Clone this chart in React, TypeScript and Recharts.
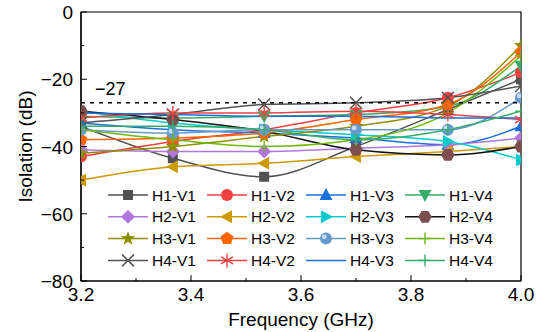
import React from 'react';
import { LineChart, Line, XAxis, YAxis, ReferenceLine, ReferenceArea, Legend } from 'recharts';

// frequency points (GHz)
const freq = [3.2, 3.367, 3.533, 3.7, 3.867, 4.0];

// isolation (dB) per port pair
const h1v1 = [-34, -43.5, -49, -40, -29, -20];
const h1v2 = [-43, -38.5, -35, -30, -25.5, -18];
const h1v3 = [-33, -35, -36, -37.5, -39.5, -34];
const h1v4 = [-31, -31.5, -31, -30.5, -28, -16];
const h2v1 = [-41, -41.5, -41.5, -40.5, -39.5, -37.5];
const h2v2 = [-50, -46, -45, -43, -41.5, -40];
const h2v3 = [-29.5, -33, -35, -36.5, -38.5, -44];
const h2v4 = [-29.5, -32, -35.5, -41, -42.5, -40];
const h3v1 = [-42, -40, -37, -34, -28, -10];
const h3v2 = [-38, -37.5, -36, -32, -27.5, -12];
const h3v3 = [-35, -36, -35, -35, -35, -25.5];
const h3v4 = [-35, -38, -40, -38, -30, -13];
const h4v1 = [-33, -30.5, -27.5, -27, -25.5, -22];
const h4v2 = [-31.5, -30, -30, -29.5, -30.5, -32];
const h4v3 = [-30, -30.5, -31, -31, -31.5, -31.5];
const h4v4 = [-34, -34, -35, -38, -35, -29.5];

const xTicks = [3.2, 3.3, 3.4, 3.5, 3.6, 3.7, 3.8, 3.9, 4.0];
const yTicks = [-80, -70, -60, -50, -40, -30, -20, -10, 0];
const threshold = -27;

const series = [
  { key: 'H1-V1', values: h1v1, color: '#515151', line: '#515151', shape: 'square' },
  { key: 'H1-V2', values: h1v2, color: '#F14040', line: '#F14040', shape: 'circle' },
  { key: 'H1-V3', values: h1v3, color: '#1A6FDF', line: '#1A6FDF', shape: 'triUp' },
  { key: 'H1-V4', values: h1v4, color: '#37AD6B', line: '#37AD6B', shape: 'triDown' },
  { key: 'H2-V1', values: h2v1, color: '#B177DE', line: '#B177DE', shape: 'diamond' },
  { key: 'H2-V2', values: h2v2, color: '#CC9900', line: '#CC9900', shape: 'triLeft' },
  { key: 'H2-V3', values: h2v3, color: '#00CBCC', line: '#00CBCC', shape: 'triRight' },
  { key: 'H2-V4', values: h2v4, color: '#7D4E4E', line: '#111111', shape: 'hexagon' },
  { key: 'H3-V1', values: h3v1, color: '#8E8E00', line: '#8E8E00', shape: 'star' },
  { key: 'H3-V2', values: h3v2, color: '#FB6501', line: '#FB6501', shape: 'pentagon' },
  { key: 'H3-V3', values: h3v3, color: '#6699CC', line: '#6699CC', shape: 'sphere' },
  { key: 'H3-V4', values: h3v4, color: '#6FB802', line: '#6FB802', shape: 'plus' },
  { key: 'H4-V1', values: h4v1, color: '#515151', line: '#515151', shape: 'x' },
  { key: 'H4-V2', values: h4v2, color: '#F14040', line: '#F14040', shape: 'asterisk' },
  { key: 'H4-V3', values: h4v3, color: '#1A6FDF', line: '#1A6FDF', shape: 'none' },
  { key: 'H4-V4', values: h4v4, color: '#37AD6B', line: '#37AD6B', shape: 'plus' },
];

const data = freq.map((f, i) => {
  const row: any = { f };
  series.forEach((s) => { row[s.key] = s.values[i]; });
  return row;
});

const FONT = '"Liberation Sans", Arial, sans-serif';

const polyPts = (cx: number, cy: number, r: number, n: number, start: number) =>
  Array.from({ length: n }, (_, i) => {
    const a = start + (i * 2 * Math.PI) / n;
    return `${cx + r * Math.cos(a)},${cy + r * Math.sin(a)}`;
  }).join(' ');

const starPts = (cx: number, cy: number, ro: number, ri: number) =>
  Array.from({ length: 10 }, (_, i) => {
    const r = i % 2 === 0 ? ro : ri;
    const a = -Math.PI / 2 + (i * Math.PI) / 5;
    return `${cx + r * Math.cos(a)},${cy + r * Math.sin(a)}`;
  }).join(' ');

function Marker({ shape, cx, cy, color }: { shape: string; cx: number; cy: number; color: string }) {
  switch (shape) {
    case 'square':
      return <rect x={cx - 5} y={cy - 5} width={10} height={10} fill={color} />;
    case 'circle':
      return <circle cx={cx} cy={cy} r={6} fill={color} />;
    case 'triUp':
      return <polygon points={`${cx},${cy - 7} ${cx + 6.5},${cy + 5} ${cx - 6.5},${cy + 5}`} fill={color} />;
    case 'triDown':
      return <polygon points={`${cx},${cy + 7} ${cx + 6.5},${cy - 5} ${cx - 6.5},${cy - 5}`} fill={color} />;
    case 'triLeft':
      return <polygon points={`${cx - 7},${cy} ${cx + 5},${cy - 6.5} ${cx + 5},${cy + 6.5}`} fill={color} />;
    case 'triRight':
      return <polygon points={`${cx + 7},${cy} ${cx - 5},${cy - 6.5} ${cx - 5},${cy + 6.5}`} fill={color} />;
    case 'diamond':
      return <polygon points={`${cx},${cy - 7} ${cx + 7},${cy} ${cx},${cy + 7} ${cx - 7},${cy}`} fill={color} />;
    case 'hexagon':
      return <polygon points={polyPts(cx, cy, 6.8, 6, 0)} fill={color} />;
    case 'pentagon':
      return <polygon points={polyPts(cx, cy, 6.8, 5, -Math.PI / 2)} fill={color} />;
    case 'star':
      return <polygon points={starPts(cx, cy, 7.5, 3.2)} fill={color} />;
    case 'sphere':
      return (
        <g>
          <circle cx={cx} cy={cy} r={6} fill={color} />
          <circle cx={cx - 1.8} cy={cy - 1.8} r={2.4} fill="#C9DCF0" />
        </g>
      );
    case 'plus':
      return (
        <g stroke={color} strokeWidth={1.4}>
          <line x1={cx - 6} y1={cy} x2={cx + 6} y2={cy} />
          <line x1={cx} y1={cy - 6} x2={cx} y2={cy + 6} />
        </g>
      );
    case 'x':
      return (
        <g stroke={color} strokeWidth={1.5}>
          <line x1={cx - 6} y1={cy - 6} x2={cx + 6} y2={cy + 6} />
          <line x1={cx - 6} y1={cy + 6} x2={cx + 6} y2={cy - 6} />
        </g>
      );
    case 'asterisk':
      return (
        <g stroke={color} strokeWidth={1.4}>
          <line x1={cx} y1={cy - 7} x2={cx} y2={cy + 7} />
          <line x1={cx - 6} y1={cy - 3.5} x2={cx + 6} y2={cy + 3.5} />
          <line x1={cx - 6} y1={cy + 3.5} x2={cx + 6} y2={cy - 3.5} />
        </g>
      );
    default:
      return null;
  }
}

const XTick = (props: any) => {
  const { x, y, payload } = props;
  const v = payload.value;
  const major = Math.round(v * 10) % 2 === 0;
  return (
    <g>
      <line x1={x} x2={x} y1={y} y2={y - (major ? 6 : 3)} stroke="#000" />
      {major && (
        <text x={x} y={y + 20} textAnchor="middle" fontSize={19} fontFamily={FONT} fill="#000">
          {v.toFixed(1)}
        </text>
      )}
    </g>
  );
};

const YTick = (props: any) => {
  const { x, y, payload } = props;
  const v = payload.value;
  const major = v % 20 === 0;
  return (
    <g>
      <line x1={x} x2={x + (major ? 6 : 3)} y1={y} y2={y} stroke="#000" />
      {major && (
        <text x={x - 8} y={y + 7} textAnchor="end" fontSize={19} fontFamily={FONT} fill="#000">
          {v < 0 ? `\u2212${Math.abs(v)}` : '0'}
        </text>
      )}
    </g>
  );
};

const LegendContent = () => (
  <svg width={430} height={95}>
    {series.map((s, k) => {
      const x0 = 8 + (k % 4) * 99;
      const y0 = 15 + Math.floor(k / 4) * 21.8;
      return (
        <g key={s.key}>
          <line x1={x0} x2={x0 + 40} y1={y0} y2={y0} stroke={s.line} strokeWidth={1.5} />
          <Marker shape={s.shape} cx={x0 + 20} cy={y0} color={s.color} />
          <text x={x0 + 44} y={y0 + 5.5} fontSize={15.5} fontFamily={FONT} fill="#000">
            {s.key}
          </text>
        </g>
      );
    })}
  </svg>
);

export default function App() {
  return (
    <div style={{ position: 'absolute', left: 0, top: 0, background: '#fff' }}>
      <LineChart width={540} height={332} data={data} margin={{ top: 12, right: 19, bottom: 0, left: 0 }} style={{ fontFamily: FONT }}>
        <XAxis
          dataKey="f"
          type="number"
          domain={[3.2, 4.0]}
          ticks={xTicks}
          allowDataOverflow
          height={51}
          tickSize={0}
          tickMargin={0}
          tick={<XTick />}
          axisLine={{ stroke: '#000', strokeWidth: 1.2 }}
          label={(p: any) => {
            const vb = p.viewBox;
            return (
              <text x={vb.x + vb.width / 2} y={vb.y + 45} textAnchor="middle" fontSize={19} fontFamily={FONT} fill="#000">
                Frequency (GHz)
              </text>
            );
          }}
        />
        <YAxis
          type="number"
          domain={[-80, 0]}
          ticks={yTicks}
          width={81}
          tickSize={0}
          tickMargin={0}
          tick={<YTick />}
          axisLine={{ stroke: '#000', strokeWidth: 1.2 }}
          label={(p: any) => {
            const vb = p.viewBox;
            const cx = vb.x + 25;
            const cy = vb.y + vb.height / 2;
            return (
              <text x={cx} y={cy} transform={`rotate(-90 ${cx} ${cy})`} textAnchor="middle" dominantBaseline="central" fontSize={19} fontFamily={FONT} fill="#000">
                Isolation (dB)
              </text>
            );
          }}
        />
        <ReferenceArea x1={3.2} x2={4.0} y1={-80} y2={0} stroke="#000" strokeWidth={1.2} fill="none" fillOpacity={0} />
        {series.map((s) => (
          <Line
            key={s.key}
            dataKey={s.key}
            type="monotoneX"
            stroke={s.line}
            strokeWidth={1.5}
            isAnimationActive={false}
            dot={(p: any) => (
              <g key={`${s.key}-${p.index}`}>
                <Marker shape={s.shape} cx={p.cx} cy={p.cy} color={s.color} />
              </g>
            )}
            activeDot={false}
          />
        ))}
        <ReferenceLine
          y={threshold}
          stroke="#000"
          strokeWidth={1.5}
          strokeDasharray="4 5"
          label={(p: any) => {
            const vb = p.viewBox;
            return (
              <text x={vb.x + 14} y={vb.y - 8} fontSize={18} fontFamily={FONT} fill="#000">
                {`\u2212${Math.abs(threshold)}`}
              </text>
            );
          }}
        />
        <Legend
          layout="horizontal"
          verticalAlign="middle"
          align="center"
          content={<LegendContent />}
          wrapperStyle={{ position: 'absolute', left: 100, top: 180, width: 430, height: 95 }}
        />
      </LineChart>
    </div>
  );
}
